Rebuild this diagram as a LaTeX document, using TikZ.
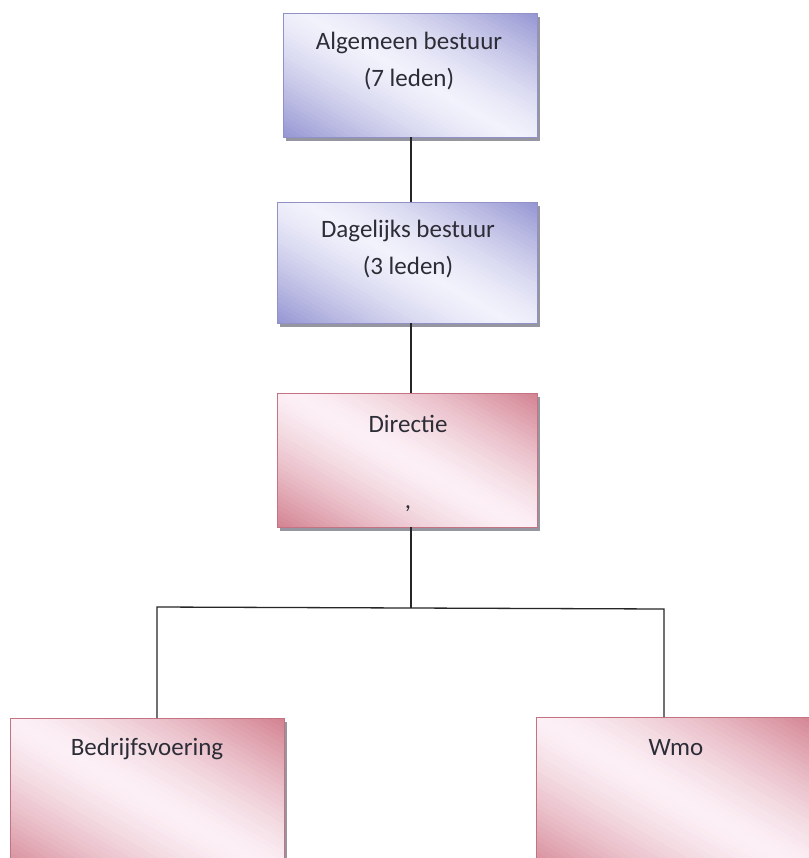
\documentclass[tikz,border=0pt]{standalone}
\usepackage{fontspec}
\setmainfont{Carlito}
\definecolor{bluedark}{RGB}{148,148,210}
\definecolor{bluelight}{RGB}{242,242,252}
\definecolor{blueline}{RGB}{145,145,200}
\definecolor{pinkdark}{RGB}{210,128,143}
\definecolor{pinklight}{RGB}{252,240,246}
\definecolor{pinkline}{RGB}{196,115,130}
\definecolor{txtcol}{RGB}{45,45,55}
\definecolor{shadowcol}{RGB}{150,150,160}
\tikzset{
  boxbase/.style={rectangle, anchor=north west, inner sep=0pt},
  label/.style={inner sep=0pt, align=center, text=txtcol, font=\fontsize{25bp}{37bp}\selectfont},
  conn/.style={draw=black!85, line width=1.3bp}
}
% #1 node, #2 half-extent along axis (bp), #3 dark, #4 light, #5 border colour
\newcommand{\gradbox}[5]{%
  \fill[shadowcol] ([shift={(3bp,-4bp)}]#1.south west) rectangle ([shift={(3bp,-4bp)}]#1.north east);
  \begin{scope}
    \clip (#1.south west) rectangle (#1.north east);
    \begin{scope}[shift={(#1.center)}, rotate=60]
      \foreach \i in {0,...,59}{%
        \pgfmathsetmacro{\sa}{(\i/30-1)*#2}%
        \pgfmathsetmacro{\sb}{\sa+#2/30+0.8}%
        \pgfmathsetmacro{\pp}{(abs((\i+0.5)/30-1))^1.4*100}%
        \fill[#3!\pp!#4] (\sa bp,-420bp) rectangle (\sb bp,420bp);
      }
    \end{scope}
  \end{scope}
  \draw[#5, line width=0.8bp] (#1.south west) rectangle (#1.north east);
}
\begin{document}
\begin{tikzpicture}[x=1bp,y=-1bp]
\useasboundingbox (0,0) rectangle (809,858);
\clip (0,0) rectangle (809,858);
\fill[white] (0,0) rectangle (809,858);
% box nodes
\node[boxbase, minimum width=254bp, minimum height=124bp] (ab) at (283,13) {};
\node[boxbase, minimum width=260bp, minimum height=121bp] (db) at (277,202) {};
\node[boxbase, minimum width=260bp, minimum height=134bp] (dir) at (277,393) {};
\node[boxbase, minimum width=274bp, minimum height=160bp] (bed) at (10,718) {};
\node[boxbase, minimum width=280bp, minimum height=160bp] (wmo) at (536,717) {};
\gradbox{ab}{118}{bluedark}{bluelight}{blueline}
\gradbox{db}{118}{bluedark}{bluelight}{blueline}
\gradbox{dir}{124}{pinkdark}{pinklight}{pinkline}
\gradbox{bed}{138}{pinkdark}{pinklight}{pinkline}
\gradbox{wmo}{140}{pinkdark}{pinklight}{pinkline}
% labels
\node[label] (abt) at (409,61) {Algemeen bestuur\\(7 leden)};
\node[label] (dbt) at (408,249) {Dagelijks bestuur\\(3 leden)};
\node[label] (dirt) at (408,424) {Directie};
\node[label] (comma) at (408,509) {,};
\node[label] (bedt) at (147,749) {Bedrijfsvoering};
\node[label] (wmot) at (676,748) {Wmo};
% connectors
\coordinate (jm) at (411,608);
\coordinate (jl) at (157,607);
\coordinate (jr) at (664,609);
\draw[conn] (ab.south -| jm) -- (db.north -| jm);
\draw[conn] (db.south -| jm) -- (dir.north -| jm);
\draw[conn] (dir.south -| jm) -- (jm);
\draw[conn] (bed.north -| jl) -- (jl) -- (jm) -- (jr) -- (wmo.north -| jr);
\end{tikzpicture}
\end{document}
